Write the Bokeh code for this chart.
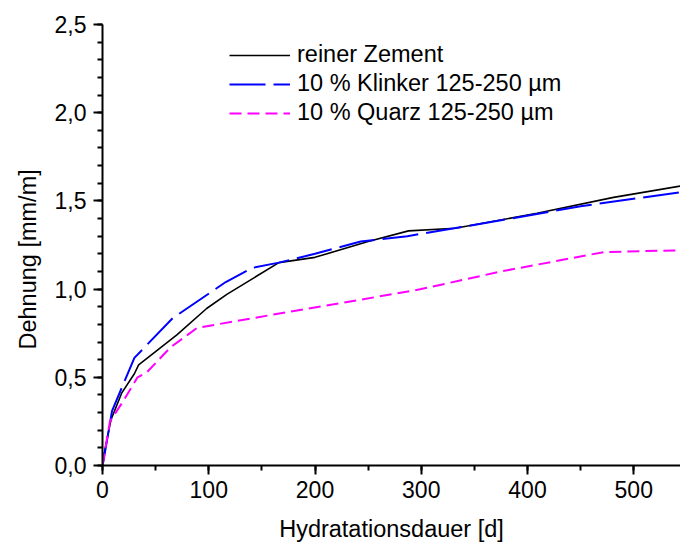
from bokeh.plotting import figure
from bokeh.models import Range1d, SingleIntervalTicker, CustomJSTickFormatter, Legend, LegendItem, Title
from bokeh.embed import file_html
from bokeh.resources import INLINE

# Data
zement_x = [0, 1, 8, 18, 30, 34, 70, 98, 117, 166, 200, 250, 288, 332, 409, 481, 545]
zement_y = [0, 0.05, 0.26, 0.41, 0.52, 0.57, 0.74, 0.89, 0.97, 1.15, 1.18, 1.27, 1.33, 1.345, 1.43, 1.52, 1.585]

klinker_x = [0, 1, 9, 30, 66, 116, 141, 166, 200, 243, 287, 375, 450, 545]
klinker_y = [0, 0.03, 0.31, 0.61, 0.835, 1.04, 1.12, 1.15, 1.20, 1.27, 1.30, 1.39, 1.47, 1.55]

quarz_x = [0, 7, 20, 33, 42, 64, 89, 165, 224, 300, 375, 472, 545]
quarz_y = [0, 0.25, 0.37, 0.50, 0.53, 0.67, 0.78, 0.86, 0.92, 1.00, 1.10, 1.21, 1.22]

labels = ["reiner Zement", "10 % Klinker 125-250 µm", "10 % Quarz 125-250 µm"]
x_title = "Hydratationsdauer [d]"
y_title = "Dehnung [mm/m]"

FONT = "Liberation Sans"

p = figure(width=680, height=544, output_backend="svg", toolbar_location=None,
           x_range=Range1d(0, 544), y_range=Range1d(0, 2.5),
           min_border_left=102, min_border_right=0, min_border_top=24, min_border_bottom=78)
p.outline_line_color = None
p.xgrid.visible = False
p.ygrid.visible = False
p.background_fill_color = "white"
p.border_fill_color = "white"

r1 = p.line(zement_x, zement_y, line_color="black", line_width=1.6)
r2 = p.line(klinker_x, klinker_y, line_color="#0000FF", line_width=2, line_dash="36 8")
r3 = p.line(quarz_x, quarz_y, line_color="#FF00FF", line_width=2, line_dash="12 6")

p.xaxis.ticker = SingleIntervalTicker(interval=100, num_minor_ticks=2)
p.yaxis.ticker = SingleIntervalTicker(interval=0.5, num_minor_ticks=5)
p.yaxis.formatter = CustomJSTickFormatter(code="return tick.toFixed(1).replace('.', ',');")
p.xaxis.formatter = CustomJSTickFormatter(code="return tick.toFixed(0);")

for ax in (p.xaxis[0], p.yaxis[0]):
    ax.axis_line_width = 2
    ax.axis_line_color = "black"
    ax.major_tick_line_width = 2
    ax.minor_tick_line_width = 2
    ax.major_tick_out = 9
    ax.major_tick_in = 0
    ax.minor_tick_out = 5
    ax.minor_tick_in = 0
    ax.major_label_text_font = FONT
    ax.major_label_text_font_size = "23px"
    ax.major_label_text_color = "black"
    ax.axis_label_text_font = FONT
    ax.axis_label_text_font_size = "23.5px"
    ax.axis_label_text_font_style = "normal"
    ax.axis_label_text_color = "black"

p.xaxis.axis_label = x_title
p.xaxis.major_label_standoff = 6
p.yaxis.major_label_standoff = 7
p.xaxis.axis_label_standoff = 15

ytitle = Title(text=y_title, align="left", offset=116, standoff=22,
               text_font=FONT, text_font_size="23.5px", text_font_style="normal",
               text_color="black")
p.add_layout(ytitle, "left")

legend = Legend(items=[LegendItem(label=labels[0], renderers=[r1]),
                       LegendItem(label=labels[1], renderers=[r2]),
                       LegendItem(label=labels[2], renderers=[r3])],
                location=(127, 339))
legend.border_line_alpha = 0
legend.background_fill_alpha = 0
legend.padding = 0
legend.margin = 0
legend.spacing = 2
legend.glyph_width = 61
legend.glyph_height = 24
legend.label_height = 24
legend.label_standoff = 7
legend.label_text_font = FONT
legend.label_text_font_size = "23.5px"
legend.label_text_color = "black"
p.add_layout(legend, "center")

open("out.html", "w").write(file_html(p, INLINE))
